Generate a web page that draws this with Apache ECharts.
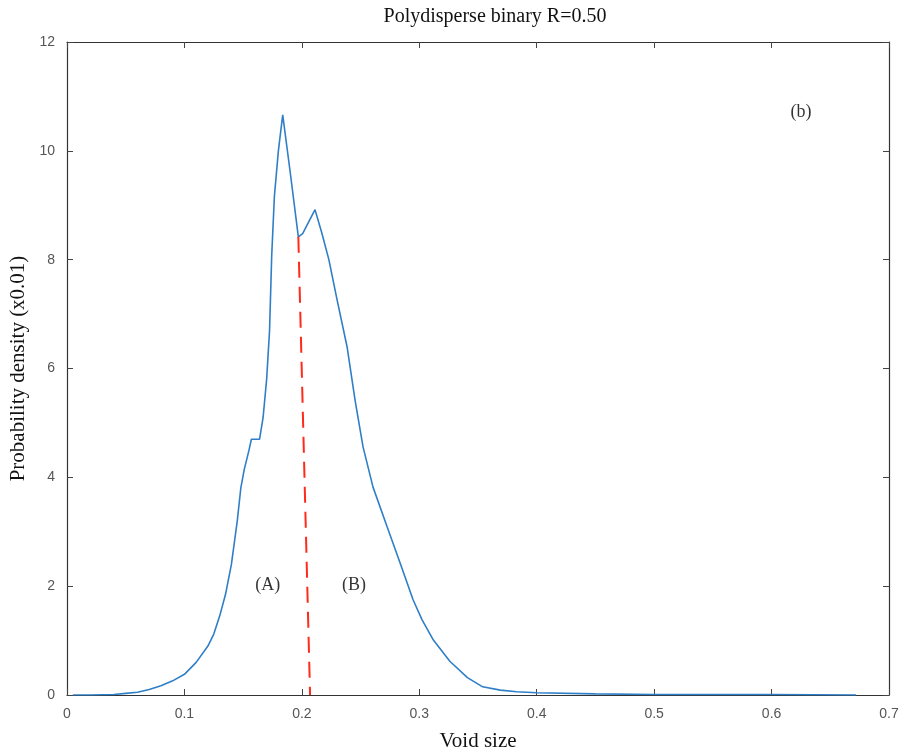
<!DOCTYPE html>
<html>
<head>
<meta charset="utf-8">
<script src="https://cdn.jsdelivr.net/npm/echarts@6/dist/echarts.min.js"></script>
<style>html,body{margin:0;padding:0;background:#fff}#c{width:907px;height:754px}</style>
</head>
<body>
<div id="c"></div>
<script>
// Void size (x) and probability density (x0.01)
const voidSize = [0.005,0.02,0.04,0.05,0.06,0.07,0.08,0.09,0.10,0.11,0.12,0.125,0.13,0.135,0.14,0.145,0.148,0.151,0.155,0.157,0.164,0.167,0.170,0.1725,0.1743,0.1766,0.180,0.1837,0.190,0.197,0.2007,0.2112,0.217,0.223,0.230,0.2385,0.2453,0.2521,0.2606,0.2726,0.2836,0.2947,0.3024,0.312,0.326,0.341,0.354,0.369,0.383,0.400,0.450,0.500,0.600,0.672];
const density  = [0.00,0.00,0.01,0.03,0.05,0.10,0.17,0.26,0.38,0.60,0.90,1.12,1.45,1.85,2.40,3.20,3.80,4.15,4.50,4.70,4.70,5.10,5.80,6.70,8.06,9.16,10.00,10.66,9.62,8.42,8.48,8.92,8.49,8.00,7.26,6.40,5.42,4.56,3.82,3.09,2.43,1.75,1.38,1.01,0.62,0.32,0.15,0.09,0.06,0.04,0.02,0.01,0.01,0.00];
// red dashed divider
const dividerX = [0.197, 0.207];
const dividerY = [8.42, 0];
// annotations
const annoText = ['(A)', '(B)', '(b)'];
const annoX = [0.171, 0.2445, 0.625];
const annoY = [2.02, 2.02, 10.7];
const xTicks = [0, 0.1, 0.2, 0.3, 0.4, 0.5, 0.6, 0.7];
const yTicks = [0, 2, 4, 6, 8, 10, 12];

const serif = '"Liberation Serif", "DejaVu Serif", serif';
const tickFont = '"Liberation Sans Narrow", "Liberation Sans", sans-serif';

const chart = echarts.init(document.getElementById('c'));
const axisCommon = {
  axisLine: {show: true, onZero: false, lineStyle: {color: '#333', width: 1.2}},
  axisTick: {show: true, inside: true, length: 6, lineStyle: {color: '#444'}},
  splitLine: {show: false}
};
chart.setOption({
  animation: false,
  backgroundColor: '#fff',
  title: {
    text: 'Polydisperse binary R=0.50',
    left: 490, top: 2, textAlign: 'center',
    textStyle: {fontFamily: serif, fontSize: 20, fontWeight: 'normal', color: '#111'}
  },
  grid: {left: 67, right: 18, top: 42, bottom: 59, containLabel: false, outerBoundsMode: 'none'},
  xAxis: [
    Object.assign({}, axisCommon, {
      type: 'value', min: 0, max: 0.7, interval: 0.1, position: 'bottom',
      name: 'Void size', nameLocation: 'middle', nameGap: 36,
      nameTextStyle: {fontFamily: serif, fontSize: 21, color: '#111'},
      axisLabel: {fontFamily: tickFont, fontSize: 14, color: '#555', margin: 12,
        formatter: v => String(Math.round(v * 10) / 10)}
    }),
    Object.assign({}, axisCommon, {
      type: 'value', min: 0, max: 0.7, interval: 0.1, position: 'top',
      axisLabel: {show: false}
    })
  ],
  yAxis: [
    Object.assign({}, axisCommon, {
      type: 'value', min: 0, max: 12, interval: 2, position: 'left',
      name: 'Probability density (x0.01)', nameLocation: 'middle', nameGap: 32,
      nameTextStyle: {fontFamily: serif, fontSize: 21, color: '#111'},
      axisLabel: {fontFamily: tickFont, fontSize: 14, color: '#555', margin: 12}
    }),
    Object.assign({}, axisCommon, {
      type: 'value', min: 0, max: 12, interval: 2, position: 'right',
      axisLabel: {show: false}
    })
  ],
  series: [
    {
      type: 'line', xAxisIndex: 0, yAxisIndex: 0,
      data: voidSize.map((x, i) => [x, density[i]]),
      showSymbol: false, symbol: 'none',
      lineStyle: {color: '#2f7fc8', width: 1.6}, z: 3
    },
    {
      type: 'line', xAxisIndex: 0, yAxisIndex: 0,
      data: dividerX.map((x, i) => [x, dividerY[i]]),
      showSymbol: false, symbol: 'none',
      lineStyle: {color: '#ff2a1a', width: 2, type: [16, 9]}, z: 4
    },
    {
      type: 'scatter', xAxisIndex: 0, yAxisIndex: 0,
      data: annoX.map((x, i) => ({value: [x, annoY[i]], label: {formatter: annoText[i]}})),
      symbolSize: 0,
      label: {show: true, position: 'inside', fontFamily: serif, fontSize: 18, color: '#000'},
      silent: true, z: 5
    }
  ]
});
</script>
</body>
</html>
